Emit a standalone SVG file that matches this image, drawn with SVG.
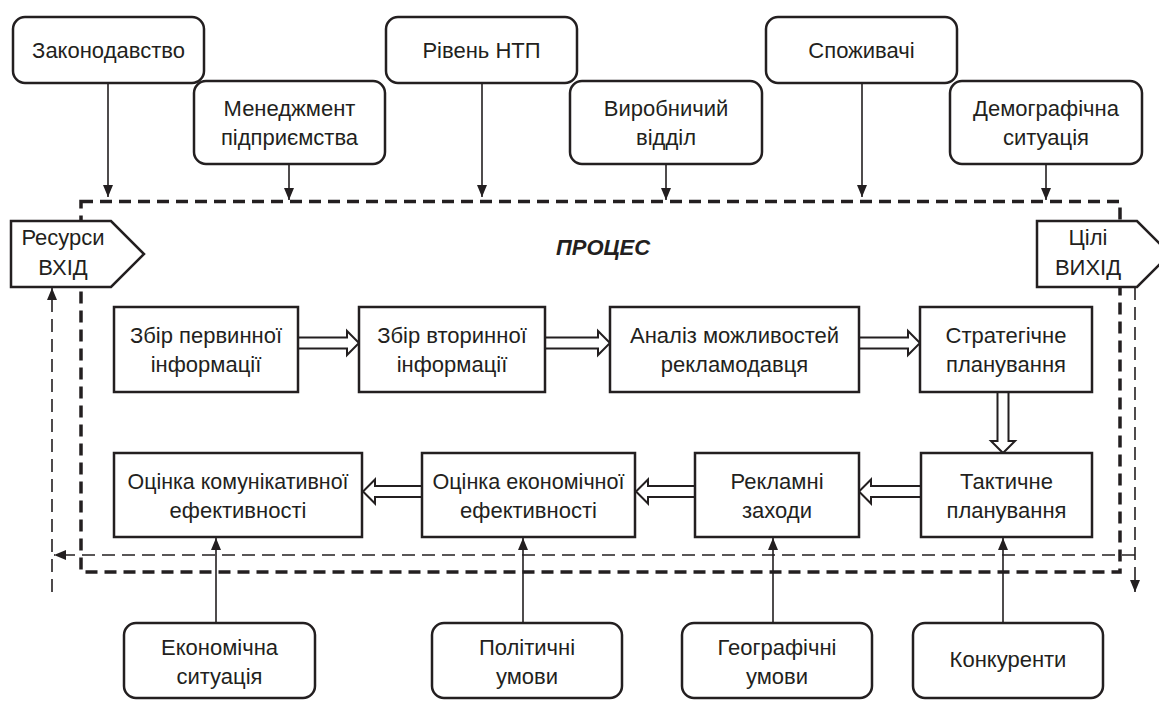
<svg xmlns="http://www.w3.org/2000/svg" width="1159" height="702" viewBox="0 0 1159 702">
<style>
text{font-family:"Liberation Sans",Arial,sans-serif;font-size:22px;fill:#231f20;text-anchor:middle}
.rb{fill:#fff;stroke:#231f20;stroke-width:2.5}
.bx{fill:#fff;stroke:#231f20;stroke-width:2.5}
.ln{stroke:#231f20;stroke-width:1.6;fill:none}
.thin{stroke:#231f20;stroke-width:1.6;fill:none;stroke-dasharray:13 7}
.thick{stroke:#231f20;stroke-width:3.5;fill:none;stroke-dasharray:12 7}
.ha{fill:#fff;stroke:#231f20;stroke-width:2}
.ttl{font-weight:bold;font-style:italic;font-size:22px}
</style>
<defs>
<marker id="ah" viewBox="0 0 12 10" refX="12" refY="5" markerWidth="12" markerHeight="10" markerUnits="userSpaceOnUse" orient="auto">
<path d="M0,0 L12,5 L0,10 z" fill="#231f20"/>
</marker>
</defs>
<g id="frame">
<rect class="thick" x="81" y="201.5" width="1039" height="370.5"/>
</g>
<g id="connectors">
<line class="ln" x1="108" y1="83" x2="108" y2="197" marker-end="url(#ah)"/>
<line class="ln" x1="289" y1="164" x2="289" y2="200" marker-end="url(#ah)"/>
<line class="ln" x1="482" y1="83" x2="482" y2="197" marker-end="url(#ah)"/>
<line class="ln" x1="666" y1="164" x2="666" y2="200" marker-end="url(#ah)"/>
<line class="ln" x1="862" y1="83" x2="862" y2="197" marker-end="url(#ah)"/>
<line class="ln" x1="1046" y1="164" x2="1046" y2="200" marker-end="url(#ah)"/>
<line class="ln" x1="216" y1="623" x2="216" y2="538" marker-end="url(#ah)"/>
<line class="ln" x1="523" y1="623" x2="523" y2="538" marker-end="url(#ah)"/>
<line class="ln" x1="773" y1="623" x2="773" y2="538" marker-end="url(#ah)"/>
<line class="ln" x1="1003" y1="623" x2="1003" y2="538" marker-end="url(#ah)"/>
<line class="thin" x1="1135" y1="555" x2="54" y2="555" marker-end="url(#ah)"/>
<line class="thin" x1="52" y1="592" x2="52" y2="288" marker-end="url(#ah)"/>
<line class="thin" x1="1135" y1="287" x2="1135" y2="592" marker-end="url(#ah)"/>
<polygon class="ha" points="298,337.5 347,337.5 347,331 359,343 347,355 347,348.5 298,348.5"/>
<polygon class="ha" points="545,337.5 598,337.5 598,331 610,343 598,355 598,348.5 545,348.5"/>
<polygon class="ha" points="859,337.5 908,337.5 908,331 920,343 908,355 908,348.5 859,348.5"/>
<polygon class="ha" points="997.5,392 997.5,441 991,441 1003,453 1015,441 1008.5,441 1008.5,392"/>
<polygon class="ha" points="921,486 871,486 871,479.5 859,491.5 871,503.5 871,497 921,497"/>
<polygon class="ha" points="695,486 648,486 648,479.5 636,491.5 648,503.5 648,497 695,497"/>
<polygon class="ha" points="422,486 375,486 375,479.5 363,491.5 375,503.5 375,497 422,497"/>
</g>
<g id="n-zakon"><rect class="rb" x="13" y="17" width="191" height="66" rx="12"/><text x="108.5" y="58">Законодавство</text></g>
<g id="n-menedzh"><rect class="rb" x="194" y="81" width="191" height="83" rx="12"/><text x="289.5" y="115.5">Менеджмент</text><text x="289.5" y="144.5">підприємства</text></g>
<g id="n-ntp"><rect class="rb" x="386" y="17" width="191" height="66" rx="12"/><text x="481.5" y="58">Рівень НТП</text></g>
<g id="n-vyrob"><rect class="rb" x="570" y="81" width="192" height="83" rx="12"/><text x="666" y="115.5">Виробничий</text><text x="666" y="144.5">відділ</text></g>
<g id="n-spozh"><rect class="rb" x="766" y="17" width="191" height="66" rx="12"/><text x="861.5" y="58">Споживачі</text></g>
<g id="n-demo"><rect class="rb" x="950" y="81" width="192" height="83" rx="12"/><text x="1046" y="115.5">Демографічна</text><text x="1046" y="144.5">ситуація</text></g>
<g id="n-input"><polygon class="bx" points="11,221 111,221 144,254 111,287 11,287"/><text x="63" y="245">Ресурси</text><text x="63" y="275">ВХІД</text></g>
<g id="n-output"><polygon class="bx" points="1037,221 1137,221 1170,254 1137,287 1037,287"/><text x="1088" y="245">Цілі</text><text x="1088" y="275">ВИХІД</text></g>
<g id="n-process"><text class="ttl" x="603" y="255">ПРОЦЕС</text></g>
<g id="n-b1"><rect class="bx" x="114" y="307" width="184" height="85"/><text x="206" y="343">Збір первинної</text><text x="206" y="372">інформації</text></g>
<g id="n-b2"><rect class="bx" x="359" y="307" width="186" height="85"/><text x="452" y="343">Збір вторинної</text><text x="452" y="372">інформації</text></g>
<g id="n-b3"><rect class="bx" x="610" y="307" width="249" height="85"/><text x="734.5" y="343">Аналіз можливостей</text><text x="734.5" y="372">рекламодавця</text></g>
<g id="n-b4"><rect class="bx" x="920" y="307" width="172" height="85"/><text x="1006" y="343">Стратегічне</text><text x="1006" y="372">планування</text></g>
<g id="n-b5"><rect class="bx" x="921" y="453" width="171" height="84"/><text x="1006.5" y="489">Тактичне</text><text x="1006.5" y="518">планування</text></g>
<g id="n-b6"><rect class="bx" x="695" y="453" width="164" height="84"/><text x="777" y="489">Рекламні</text><text x="777" y="518">заходи</text></g>
<g id="n-b7"><rect class="bx" x="422" y="453" width="213" height="84"/><text x="528.5" y="489" textLength="192" lengthAdjust="spacingAndGlyphs">Оцінка економічної</text><text x="528.5" y="518">ефективності</text></g>
<g id="n-b8"><rect class="bx" x="114" y="453" width="248" height="84"/><text x="238" y="489" textLength="221" lengthAdjust="spacingAndGlyphs">Оцінка комунікативної</text><text x="238" y="518">ефективності</text></g>
<g id="n-econ"><rect class="rb" x="124" y="623" width="191" height="75" rx="12"/><text x="219.5" y="655">Економічна</text><text x="219.5" y="684">ситуація</text></g>
<g id="n-polit"><rect class="rb" x="432" y="623" width="190" height="75" rx="12"/><text x="527" y="655">Політичні</text><text x="527" y="684">умови</text></g>
<g id="n-geo"><rect class="rb" x="682" y="623" width="190" height="75" rx="12"/><text x="777" y="655">Географічні</text><text x="777" y="684">умови</text></g>
<g id="n-konk"><rect class="rb" x="913" y="623" width="190" height="75" rx="12"/><text x="1008" y="667">Конкуренти</text></g>
</svg>
